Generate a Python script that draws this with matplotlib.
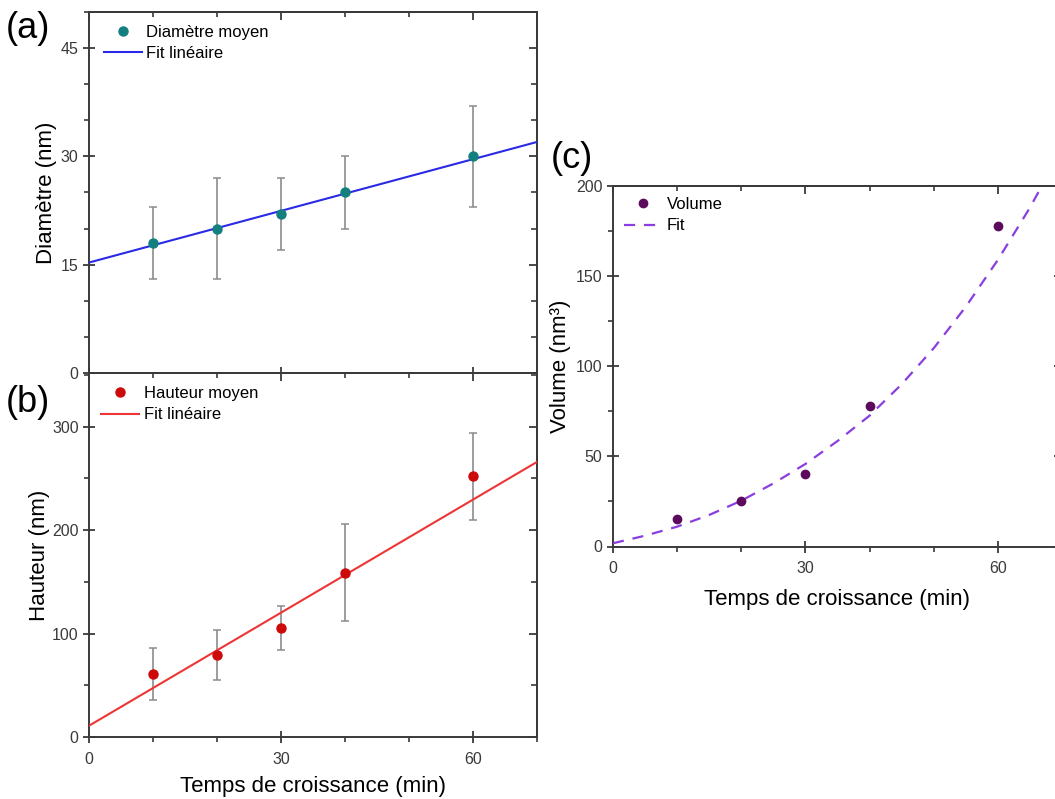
import matplotlib
matplotlib.use("Agg")
import matplotlib.pyplot as plt
from matplotlib.ticker import MultipleLocator
import numpy as np

plt.rcParams['font.family'] = ['Liberation Sans', 'DejaVu Sans']

# ---------------- data ----------------
temps = [10, 20, 30, 40, 60]

diam = [18, 20, 22, 25, 30]
diam_low = [13, 13, 17, 20, 23]
diam_high = [23, 27, 27, 30, 37]
diam_fit_x = [0, 70]
diam_fit_y = [15.3, 32.0]

haut = [61, 79, 105, 159, 252]
haut_low = [36, 55, 84, 112, 210]
haut_high = [86, 103, 127, 206, 294]
haut_fit_x = [0, 70]
haut_fit_y = [10.9, 266]

vol = [15, 25, 40, 78, 178]
vol_fit_t = [0, 5, 10, 15, 20, 25, 30, 35, 40, 45, 50, 55, 60, 65, 67]
vol_fit_v = [1.8, 6.0, 11.0, 17.5, 25.4, 35, 45.8, 58.5, 72.6, 90, 110, 133, 159, 188, 201]

# ---------------- style ----------------
SPINE = '#3a3a3a'
TICKLBL = '#3a3a3a'
ERR = '#8c8c8c'

W, H = 1055, 799
fig = plt.figure(figsize=(W / 100, H / 100), dpi=100)


def px(l, t, r, b):
    return [l / W, 1 - b / H, (r - l) / W, (b - t) / H]


def style(ax, xmaj, xmin, ymaj, ymin, show_x=True):
    for s in ax.spines.values():
        s.set_color(SPINE)
        s.set_linewidth(1.4)
    ax.xaxis.set_major_locator(MultipleLocator(xmaj))
    ax.xaxis.set_minor_locator(MultipleLocator(xmin))
    ax.yaxis.set_major_locator(MultipleLocator(ymaj))
    ax.yaxis.set_minor_locator(MultipleLocator(ymin))
    ax.tick_params(which='major', direction='inout', length=9, width=1.3,
                   colors=SPINE, labelcolor=TICKLBL, labelsize=11.5)
    ax.tick_params(which='minor', direction='out', length=3.5, width=1.2,
                   colors=SPINE)
    ax.tick_params(axis='x', pad=6)
    ax.tick_params(axis='y', pad=3)
    if not show_x:
        ax.tick_params(axis='x', which='both', labelbottom=False)
    # top / right inward ticks
    sx = ax.secondary_xaxis('top')
    sx.xaxis.set_major_locator(MultipleLocator(xmaj))
    sx.xaxis.set_minor_locator(MultipleLocator(xmin))
    sx.tick_params(which='major', direction='in', length=6, width=1.3, colors=SPINE,
                   labeltop=False)
    sx.tick_params(which='minor', direction='in', length=3.5, width=1.2, colors=SPINE)
    sx.spines['top'].set_color(SPINE)
    sx.spines['top'].set_linewidth(1.4)
    sy = ax.secondary_yaxis('right')
    sy.yaxis.set_major_locator(MultipleLocator(ymaj))
    sy.yaxis.set_minor_locator(MultipleLocator(ymin))
    sy.tick_params(which='major', direction='in', length=6, width=1.3, colors=SPINE,
                   labelright=False)
    sy.tick_params(which='minor', direction='in', length=4.5, width=1.2, colors=SPINE)
    sy.spines['right'].set_color(SPINE)
    sy.spines['right'].set_linewidth(1.4)


def draw(ax, y, lo, hi, fx, fy, mcol, lcol, lab_pts, lab_fit, ls='-'):
    y = np.asarray(y, float)
    yerr = [y - np.asarray(lo, float), np.asarray(hi, float) - y]
    ax.errorbar(temps, y, yerr=yerr, fmt='none', ecolor=ERR, elinewidth=1.2,
                capsize=3, capthick=1.1, zorder=2)
    ln, = ax.plot(fx, fy, color=lcol, lw=1.5, ls=ls, zorder=3, label=lab_fit)
    pt, = ax.plot(temps, y, 'o', color=mcol, ms=6.5, ls='none', zorder=4, label=lab_pts)
    return pt, ln


LEG = dict(loc='upper left', frameon=False, fontsize=12, handlelength=2.3,
           handletextpad=0.25, labelspacing=0.38)

# ---------------- (a) ----------------
ax_a = fig.add_axes(px(89, 12, 537, 373))
pa, la = draw(ax_a, diam, diam_low, diam_high, diam_fit_x, diam_fit_y,
              '#13807f', '#2a2ae6', 'Diamètre moyen', 'Fit linéaire')
ax_a.set_xlim(0, 70)
ax_a.set_ylim(0, 50)
style(ax_a, 30, 10, 15, 5, show_x=False)
ax_a.set_ylabel('Diamètre (nm)', fontsize=16)
ax_a.yaxis.set_label_coords((57 - 89) / 448, 0.5)
ax_a.legend([pa, la], ['Diamètre moyen', 'Fit linéaire'],
            bbox_to_anchor=(10 / 448, 1 - 8 / 361), borderaxespad=0, borderpad=0.3, **LEG)

# ---------------- (b) ----------------
ax_b = fig.add_axes(px(89, 373, 537, 737))
pb, lb = draw(ax_b, haut, haut_low, haut_high, haut_fit_x, haut_fit_y,
              '#cc0a0a', '#ee3535', 'Hauteur moyen', 'Fit linéaire')
ax_b.set_xlim(0, 70)
ax_b.set_ylim(0, 352)
style(ax_b, 30, 10, 100, 50)
ax_b.set_ylabel('Hauteur (nm)', fontsize=16)
ax_b.yaxis.set_label_coords((50 - 89) / 448, 0.5)
ax_b.set_xlabel('Temps de croissance (min)', fontsize=16, labelpad=7)
ax_b.legend([pb, lb], ['Hauteur moyen', 'Fit linéaire'],
            bbox_to_anchor=(7 / 448, 1 - 8 / 364), borderaxespad=0, borderpad=0.3, **LEG)

# ---------------- (c) ----------------
ax_c = fig.add_axes(px(613, 186, 1062, 546.5))
lc, = ax_c.plot(vol_fit_t, vol_fit_v, color='#8a3ee0', lw=1.6, ls=(0, (5, 4)),
                zorder=3, label='Fit')
pc, = ax_c.plot(temps, vol, 'o', color='#5c0a5c', ms=6, ls='none', zorder=4,
                label='Volume')
ax_c.set_xlim(0, 70)
ax_c.set_ylim(0, 200)
style(ax_c, 30, 10, 50, 25)
ax_c.set_ylabel('Volume (nm³)', fontsize=16)
ax_c.yaxis.set_label_coords((571 - 613) / 449, 0.5)
ax_c.set_xlabel('Temps de croissance (min)', fontsize=16, labelpad=9)
ax_c.legend([pc, lc], ['Volume', 'Fit'],
            bbox_to_anchor=(6 / 449, 1 - 6 / 360), borderaxespad=0, borderpad=0.3, **LEG)

# panel letters
fig.text(6 / W, 1 - 28 / H, '(a)', fontsize=26, va='center', ha='left')
fig.text(6 / W, 1 - 402 / H, '(b)', fontsize=26, va='center', ha='left')
fig.text(551 / W, 1 - 158 / H, '(c)', fontsize=26, va='center', ha='left')

fig.savefig('out.png', dpi=100)
